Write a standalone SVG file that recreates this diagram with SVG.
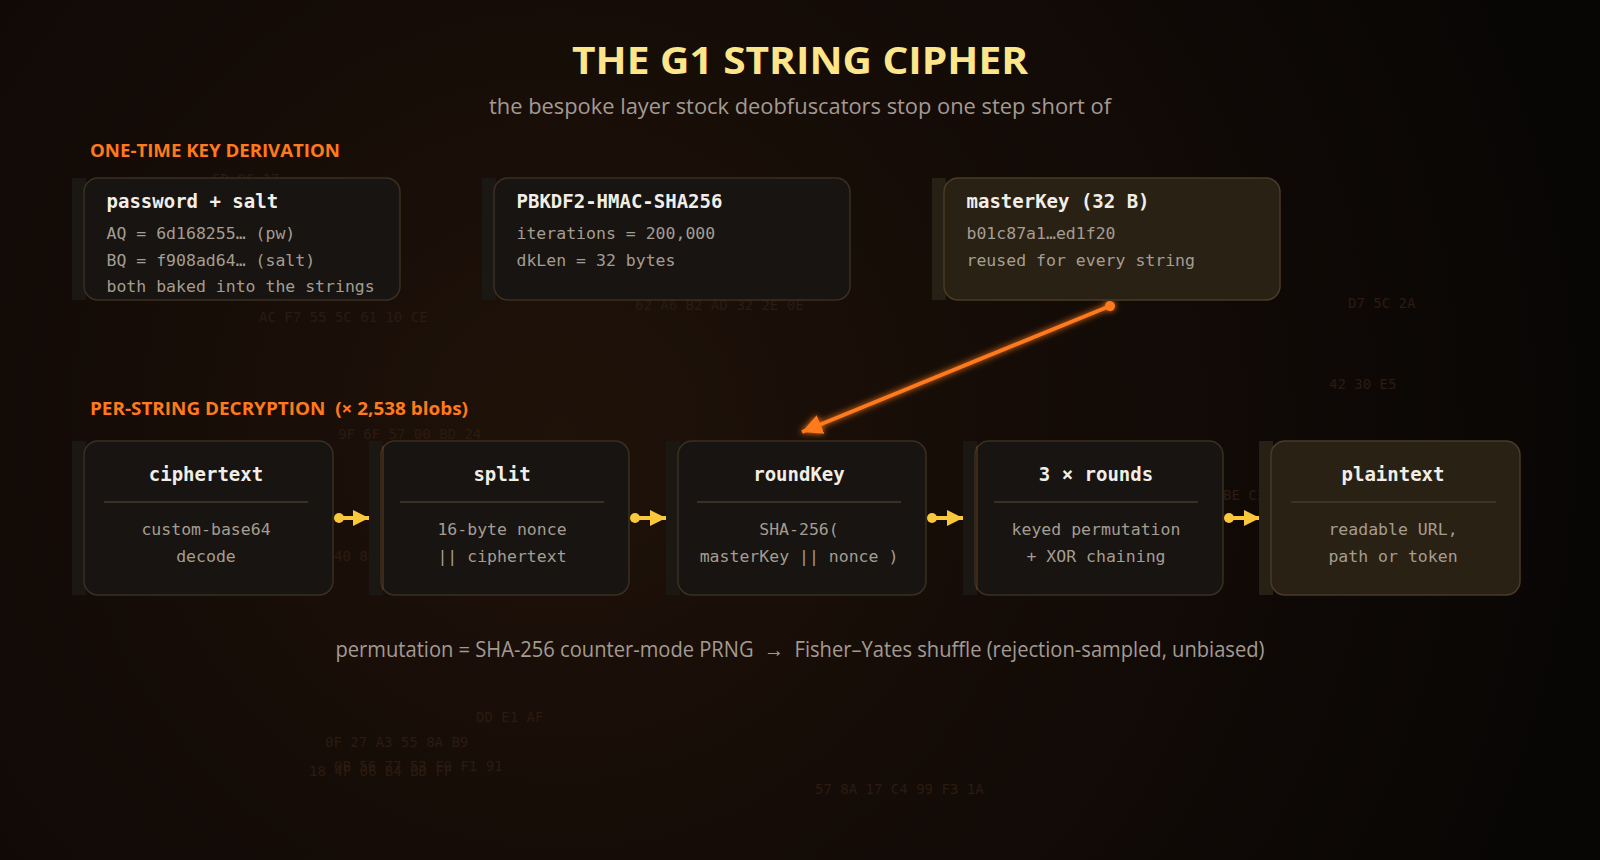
<svg xmlns="http://www.w3.org/2000/svg" width="1600" height="860" viewBox="0 0 1600 860">
  <defs>
    <radialGradient id="bg" cx="560" cy="430" r="1050" gradientUnits="userSpaceOnUse">
      <stop offset="0" stop-color="#1f1209"/>
      <stop offset="0.45" stop-color="#150c07"/>
      <stop offset="1" stop-color="#080605"/>
    </radialGradient>
    <filter id="glow" x="-50%" y="-50%" width="200%" height="200%">
      <feGaussianBlur in="SourceGraphic" stdDeviation="3" result="b"/>
      <feMerge><feMergeNode in="b"/><feMergeNode in="SourceGraphic"/></feMerge>
    </filter>
    <marker id="headO" markerUnits="userSpaceOnUse" markerWidth="22" markerHeight="22" refX="20" refY="10" orient="auto">
      <path d="M0,0 L20,10 L0,20 z" fill="#ff7a1a"/>
    </marker>
    <marker id="dotO" markerUnits="userSpaceOnUse" markerWidth="12" markerHeight="12" refX="6" refY="6" orient="auto">
      <circle cx="6" cy="6" r="5" fill="#ff7a1a"/>
    </marker>
    <marker id="headY" markerUnits="userSpaceOnUse" markerWidth="18" markerHeight="18" refX="16" refY="8" orient="auto">
      <path d="M0,0 L16,8 L0,16 z" fill="#fbc83c"/>
    </marker>
    <marker id="dotY" markerUnits="userSpaceOnUse" markerWidth="12" markerHeight="12" refX="6" refY="6" orient="auto">
      <circle cx="6" cy="6" r="5" fill="#fbc83c"/>
    </marker>
  </defs>
  <style>
    .hex { font-family: "DejaVu Sans Mono", "Liberation Mono", monospace; font-size: 14px; fill: #2c1b10; }
    .strip { fill: #1b1814; }
    .body { fill: #171411; stroke: #3b2f22; stroke-width: 1.5; }
    .strip.warm { fill: #262015; }
    .body.warm { fill: #2a2115; stroke: #4a3a27; }
    .ttl { font-family: "DejaVu Sans Mono", "Liberation Mono", monospace; font-size: 19px; font-weight: bold; fill: #f2eee7; }
    .sub { font-family: "DejaVu Sans Mono", "Liberation Mono", monospace; font-size: 16.5px; fill: #a59d92; }
    .c { text-anchor: middle; }
    .sep { stroke: #47382a; stroke-width: 1.5; }
    .section { font-family: "Open Sans", "Noto Sans", sans-serif; font-weight: bold; font-size: 18px; fill: #ff7a1a; }
    .edgeO { stroke: #ff7a1a; stroke-width: 4; fill: none; marker-start: url(#dotO); marker-end: url(#headO); filter: url(#glow); }
    .edgeY { stroke: #fbc83c; stroke-width: 4; fill: none; marker-start: url(#dotY); marker-end: url(#headY); }
  </style>

  <rect x="0" y="0" width="1600" height="860" fill="url(#bg)"/>

  <g id="background-hex">
    <text class="hex" x="212" y="184">5D 8C 17</text>
    <text class="hex" x="259" y="322">AC F7 55 5C 61 10 CE</text>
    <text class="hex" x="635" y="310">62 A6 B2 AD 32 2E 0E</text>
    <text class="hex" x="1348" y="308">D7 5C 2A</text>
    <text class="hex" x="1329" y="389">42 30 E5</text>
    <text class="hex" x="338" y="439">9F 6F 57 00 BD 24</text>
    <text class="hex" x="334" y="561">40 8B 2D</text>
    <text class="hex" x="1223" y="500">BE C3 7A</text>
    <text class="hex" x="476" y="722">DD E1 AF</text>
    <text class="hex" x="325" y="747">0F 27 A3 55 8A B9</text>
    <text class="hex" x="334" y="771">0B 56 77 53 F0 F1 91</text>
    <text class="hex" x="309" y="776">18 4F 06 B4 BD FF</text>
    <text class="hex" x="815" y="794">57 8A 17 C4 99 F3 1A</text>
  </g>

  <g id="header">
    <text x="800" y="74" text-anchor="middle" font-family="Open Sans, Noto Sans, sans-serif" font-weight="bold" font-size="38" fill="#fde68a" textLength="456" lengthAdjust="spacingAndGlyphs">THE G1 STRING CIPHER</text>
    <text x="800" y="114" text-anchor="middle" font-family="Open Sans, Noto Sans, sans-serif" font-size="22" fill="#a39b93" textLength="622" lengthAdjust="spacingAndGlyphs">the bespoke layer stock deobfuscators stop one step short of</text>
  </g>

  <g id="section-labels">
    <text class="section" x="90" y="157" textLength="250" lengthAdjust="spacingAndGlyphs">ONE-TIME KEY DERIVATION</text>
    <text class="section" x="90" y="415" textLength="378" lengthAdjust="spacingAndGlyphs" xml:space="preserve">PER-STRING DECRYPTION  (× 2,538 blobs)</text>
  </g>

  <g id="connectors">
    <path class="edgeO" d="M406,239 L482,239"/>
    <path class="edgeO" d="M856,239 L932,239"/>
    <path class="edgeO" d="M1110,306 L802,432"/>
    <path class="edgeY" d="M339,518 L369,518"/>
    <path class="edgeY" d="M635,518 L666,518"/>
    <path class="edgeY" d="M932,518 L963,518"/>
    <path class="edgeY" d="M1229,518 L1260,518"/>
  </g>

  <g id="node-password">
    <rect class="strip" x="72" y="178" width="14" height="122"/>
    <rect class="body" x="84" y="178" width="316" height="122" rx="14"/>
    <text class="ttl" x="106.5" y="208">password + salt</text>
    <text class="sub" x="106.5" y="239">AQ = 6d168255… (pw)</text>
    <text class="sub" x="106.5" y="266">BQ = f908ad64… (salt)</text>
    <text class="sub" x="106.5" y="292">both baked into the strings</text>
  </g>

  <g id="node-pbkdf2">
    <rect class="strip" x="482" y="178" width="14" height="122"/>
    <rect class="body" x="494" y="178" width="356" height="122" rx="14"/>
    <text class="ttl" x="516.5" y="208">PBKDF2-HMAC-SHA256</text>
    <text class="sub" x="516.5" y="239">iterations = 200,000</text>
    <text class="sub" x="516.5" y="266">dkLen = 32 bytes</text>
  </g>

  <g id="node-masterkey">
    <rect class="strip warm" x="932" y="178" width="14" height="122"/>
    <rect class="body warm" x="944" y="178" width="336" height="122" rx="14"/>
    <text class="ttl" x="966.5" y="208">masterKey (32 B)</text>
    <text class="sub" x="966.5" y="239">b01c87a1…ed1f20</text>
    <text class="sub" x="966.5" y="266">reused for every string</text>
  </g>

  <g id="node-ciphertext">
    <rect class="strip" x="72" y="441" width="14" height="154"/>
    <rect class="body" x="84" y="441" width="249" height="154" rx="14"/>
    <text class="ttl c" x="206" y="481">ciphertext</text>
    <line class="sep" x1="104" y1="502" x2="308" y2="502"/>
    <text class="sub c" x="206" y="535">custom-base64</text>
    <text class="sub c" x="206" y="562">decode</text>
  </g>

  <g id="node-split">
    <rect class="strip" x="369" y="441" width="14" height="154"/>
    <rect class="body" x="381" y="441" width="248" height="154" rx="14"/>
    <line x1="383" y1="446" x2="383" y2="590" stroke="#6b3d1c" stroke-width="1"/>
    <text class="ttl c" x="502" y="481">split</text>
    <line class="sep" x1="400" y1="502" x2="604" y2="502"/>
    <text class="sub c" x="502" y="535">16-byte nonce</text>
    <text class="sub c" x="502" y="562">|| ciphertext</text>
  </g>

  <g id="node-roundkey">
    <rect class="strip" x="666" y="441" width="14" height="154"/>
    <rect class="body" x="678" y="441" width="248" height="154" rx="14"/>
    <text class="ttl c" x="799" y="481">roundKey</text>
    <line class="sep" x1="697" y1="502" x2="901" y2="502"/>
    <text class="sub c" x="799" y="535">SHA-256(</text>
    <text class="sub c" x="799" y="562">masterKey || nonce )</text>
  </g>

  <g id="node-rounds">
    <rect class="strip" x="963" y="441" width="14" height="154"/>
    <rect class="body" x="975" y="441" width="248" height="154" rx="14"/>
    <line x1="977" y1="446" x2="977" y2="590" stroke="#6b3d1c" stroke-width="1"/>
    <text class="ttl c" x="1096" y="481">3 × rounds</text>
    <line class="sep" x1="994" y1="502" x2="1198" y2="502"/>
    <text class="sub c" x="1096" y="535">keyed permutation</text>
    <text class="sub c" x="1096" y="562">+ XOR chaining</text>
  </g>

  <g id="node-plaintext">
    <rect class="strip warm" x="1259" y="441" width="14" height="154"/>
    <rect class="body warm" x="1271" y="441" width="249" height="154" rx="14"/>
    <text class="ttl c" x="1393" y="481">plaintext</text>
    <line class="sep" x1="1291" y1="502" x2="1496" y2="502"/>
    <text class="sub c" x="1393" y="535">readable URL,</text>
    <text class="sub c" x="1393" y="562">path or token</text>
  </g>

  <g id="footnote">
    <text x="800" y="657" text-anchor="middle" font-family="Open Sans, Noto Sans, sans-serif" font-size="21" fill="#a39b93" textLength="929" lengthAdjust="spacingAndGlyphs" xml:space="preserve">permutation = SHA-256 counter-mode PRNG  →  Fisher–Yates shuffle (rejection-sampled, unbiased)</text>
  </g>
</svg>
